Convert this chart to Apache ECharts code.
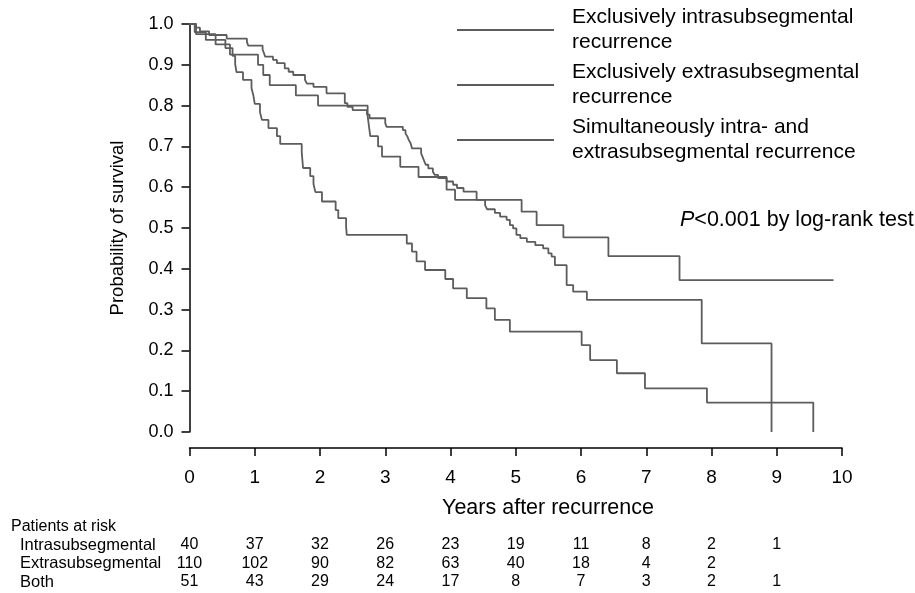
<!DOCTYPE html>
<html>
<head>
<meta charset="utf-8">
<script src="https://cdn.jsdelivr.net/npm/echarts@6/dist/echarts.min.js"></script>
<style>
html,body{margin:0;padding:0;background:#fff;}
#chart{width:915px;height:593px;}
</style>
</head>
<body>
<div id="chart"></div>
<script>
// ---- Data ----
var seriesNames = [
  'Exclusively intrasubsegmental\nrecurrence',
  'Exclusively extrasubsegmental\nrecurrence',
  'Simultaneously intra- and\nextrasubsegmental recurrence'
];
var intraT = [0, 0.10, 0.40, 0.62, 1.05, 1.13, 1.23, 1.63, 1.97, 2.73, 2.75, 2.77, 2.89, 2.95, 3.23, 3.51, 3.94, 4.07, 5.09, 5.32, 5.73, 6.42, 7.51, 9.87];
var intraS = [1, 0.975, 0.95, 0.925, 0.90, 0.875, 0.85, 0.825, 0.80, 0.775, 0.75, 0.725, 0.70, 0.675, 0.65, 0.625, 0.594, 0.569, 0.540, 0.507, 0.477, 0.431, 0.372, 0.372];
var extraT = [0, 0.10, 0.16, 0.30, 0.57, 0.88, 0.90, 1.12, 1.14, 1.16, 1.28, 1.34, 1.46, 1.52, 1.59, 1.77, 1.80, 1.90, 2.10, 2.38, 2.42, 2.50, 2.72, 2.76, 3.00, 3.02, 3.27, 3.31, 3.34, 3.36, 3.39, 3.41, 3.55, 3.57, 3.59, 3.62, 3.66, 3.73, 3.76, 3.81, 3.94, 4.04, 4.10, 4.20, 4.40, 4.53, 4.56, 4.68, 4.76, 4.86, 4.91, 4.96, 5.01, 5.07, 5.17, 5.30, 5.42, 5.50, 5.55, 5.60, 5.78, 5.88, 6.09, 7.85, 8.92];
var extraS = [1, 0.991, 0.982, 0.973, 0.964, 0.956, 0.947, 0.938, 0.929, 0.920, 0.912, 0.904, 0.891, 0.883, 0.875, 0.863, 0.854, 0.846, 0.830, 0.806, 0.797, 0.789, 0.778, 0.769, 0.757, 0.748, 0.740, 0.732, 0.724, 0.716, 0.707, 0.695, 0.683, 0.675, 0.667, 0.655, 0.646, 0.638, 0.630, 0.622, 0.614, 0.606, 0.598, 0.589, 0.569, 0.556, 0.546, 0.537, 0.528, 0.520, 0.507, 0.499, 0.483, 0.475, 0.466, 0.458, 0.450, 0.438, 0.430, 0.409, 0.360, 0.344, 0.324, 0.217, 0];
var bothT = [0, 0.08, 0.25, 0.55, 0.66, 0.70, 0.72, 0.82, 0.95, 0.98, 1.00, 1.08, 1.11, 1.21, 1.34, 1.39, 1.72, 1.73, 1.74, 1.85, 1.90, 1.93, 2.03, 2.24, 2.28, 2.40, 2.41, 3.33, 3.41, 3.48, 3.61, 3.92, 4.04, 4.25, 4.55, 4.68, 4.91, 6.01, 6.14, 6.55, 6.98, 7.93, 9.56];
var bothS = [1, 0.980, 0.961, 0.941, 0.922, 0.902, 0.882, 0.863, 0.843, 0.824, 0.804, 0.784, 0.765, 0.745, 0.725, 0.706, 0.686, 0.667, 0.647, 0.627, 0.608, 0.588, 0.565, 0.544, 0.524, 0.503, 0.483, 0.462, 0.442, 0.418, 0.397, 0.375, 0.352, 0.328, 0.303, 0.275, 0.246, 0.213, 0.176, 0.144, 0.107, 0.072, 0];

var riskYears = [0, 1, 2, 3, 4, 5, 6, 7, 8, 9];
var riskLabels = ['Intrasubsegmental', 'Extrasubsegmental', 'Both'];
var intraRisk = [40, 37, 32, 26, 23, 19, 11, 8, 2, 1];
var extraRisk = [110, 102, 90, 82, 63, 40, 18, 4, 2, ''];
var bothRisk = [51, 43, 29, 24, 17, 8, 7, 3, 2, 1];

var yTicks = [0, 0.1, 0.2, 0.3, 0.4, 0.5, 0.6, 0.7, 0.8, 0.9, 1.0];
var xTicks = [0, 1, 2, 3, 4, 5, 6, 7, 8, 9, 10];

// ---- Build ----
function pairs(t, s) { return t.map(function (v, i) { return [v, s[i]]; }); }
var SANS = "'Liberation Sans', Arial, sans-serif";
var lineColor = '#5c5c5c';
var GRID_BOTTOM_Y = 432;

function riskAxis(values, rowY) {
  return {
    type: 'value', gridIndex: 0, position: 'bottom', min: 0, max: 10, interval: 1,
    offset: rowY - GRID_BOTTOM_Y,
    axisLine: { show: false, onZero: false }, axisTick: { show: false }, splitLine: { show: false },
    axisLabel: {
      margin: 0, verticalAlign: 'middle', fontFamily: SANS, fontSize: 16, color: '#000',
      formatter: function (v) { var i = riskYears.indexOf(v); return i >= 0 ? String(values[i]) : ''; }
    }
  };
}

var chart = echarts.init(document.getElementById('chart'), null, { renderer: 'canvas' });
var option = {
  backgroundColor: '#fff',
  animation: false,
  grid: { left: 189.5, right: 73, top: 24, bottom: 161, containLabel: false },
  legend: {
    orient: 'vertical', left: 457, top: 5, itemGap: 5, padding: 0,
    itemWidth: 97, itemHeight: 2, icon: 'rect',
    data: seriesNames,
    textStyle: { fontFamily: SANS, fontSize: 21, lineHeight: 25, color: '#000', padding: [0, 0, 0, 13] }
  },
  xAxis: [
    {
      type: 'value', min: 0, max: 10, interval: 1, offset: 16,
      axisLine: { show: true, onZero: false, lineStyle: { color: '#000', width: 1.5 } },
      axisTick: { show: true, length: 8, lineStyle: { color: '#000', width: 1.5 } },
      splitLine: { show: false },
      axisLabel: { margin: 30, verticalAlign: 'middle', fontFamily: SANS, fontSize: 19, color: '#000',
        formatter: function (v) { return xTicks.indexOf(v) >= 0 ? String(v) : ''; } }
    },
    riskAxis(intraRisk, 545),
    riskAxis(extraRisk, 563.5),
    riskAxis(bothRisk, 582)
  ],
  yAxis: {
    type: 'value', min: 0, max: 1, interval: 0.1,
    axisLine: { show: true, onZero: false, lineStyle: { color: '#000', width: 1.5 } },
    axisTick: { show: true, length: 8, lineStyle: { color: '#000', width: 1.5 } },
    splitLine: { show: false },
    axisLabel: { margin: 16, fontFamily: SANS, fontSize: 18, color: '#000',
      formatter: function (v) { return yTicks.indexOf(Math.round(v * 10) / 10) >= 0 ? v.toFixed(1) : ''; } }
  },
  series: [
    { name: seriesNames[0], type: 'line', step: 'end', showSymbol: false, data: pairs(intraT, intraS),
      lineStyle: { color: lineColor, width: 1.8 }, itemStyle: { color: lineColor } },
    { name: seriesNames[1], type: 'line', step: 'end', showSymbol: false, data: pairs(extraT, extraS),
      lineStyle: { color: lineColor, width: 1.8 }, itemStyle: { color: lineColor } },
    { name: seriesNames[2], type: 'line', step: 'end', showSymbol: false, data: pairs(bothT, bothS),
      lineStyle: { color: lineColor, width: 1.8 }, itemStyle: { color: lineColor } }
  ],
  graphic: [
    { type: 'text', x: 118, y: 228, rotation: Math.PI / 2,
      style: { text: 'Probability of survival', font: "18.5px " + SANS, fill: '#000', align: 'center', verticalAlign: 'middle' } },
    { type: 'text', x: 548, y: 508,
      style: { text: 'Years after recurrence', font: "21.5px " + SANS, fill: '#000', align: 'center', verticalAlign: 'middle' } },
    { type: 'text', x: 680, y: 220,
      style: { text: '{i|P}<0.001 by log-rank test', font: "21.5px " + SANS, fill: '#000', align: 'left', verticalAlign: 'middle',
        rich: { i: { fontStyle: 'italic', fontFamily: SANS, fontSize: 21.5 } } } },
    { type: 'text', x: 11, y: 527,
      style: { text: 'Patients at risk', font: "16px " + SANS, fill: '#000', align: 'left', verticalAlign: 'middle' } },
    { type: 'text', x: 20, y: 545,
      style: { text: riskLabels[0], font: "16.5px " + SANS, fill: '#000', align: 'left', verticalAlign: 'middle' } },
    { type: 'text', x: 20, y: 563.5,
      style: { text: riskLabels[1], font: "16.5px " + SANS, fill: '#000', align: 'left', verticalAlign: 'middle' } },
    { type: 'text', x: 20, y: 582,
      style: { text: riskLabels[2], font: "16.5px " + SANS, fill: '#000', align: 'left', verticalAlign: 'middle' } }
  ]
};
chart.setOption(option);
</script>
</body>
</html>
